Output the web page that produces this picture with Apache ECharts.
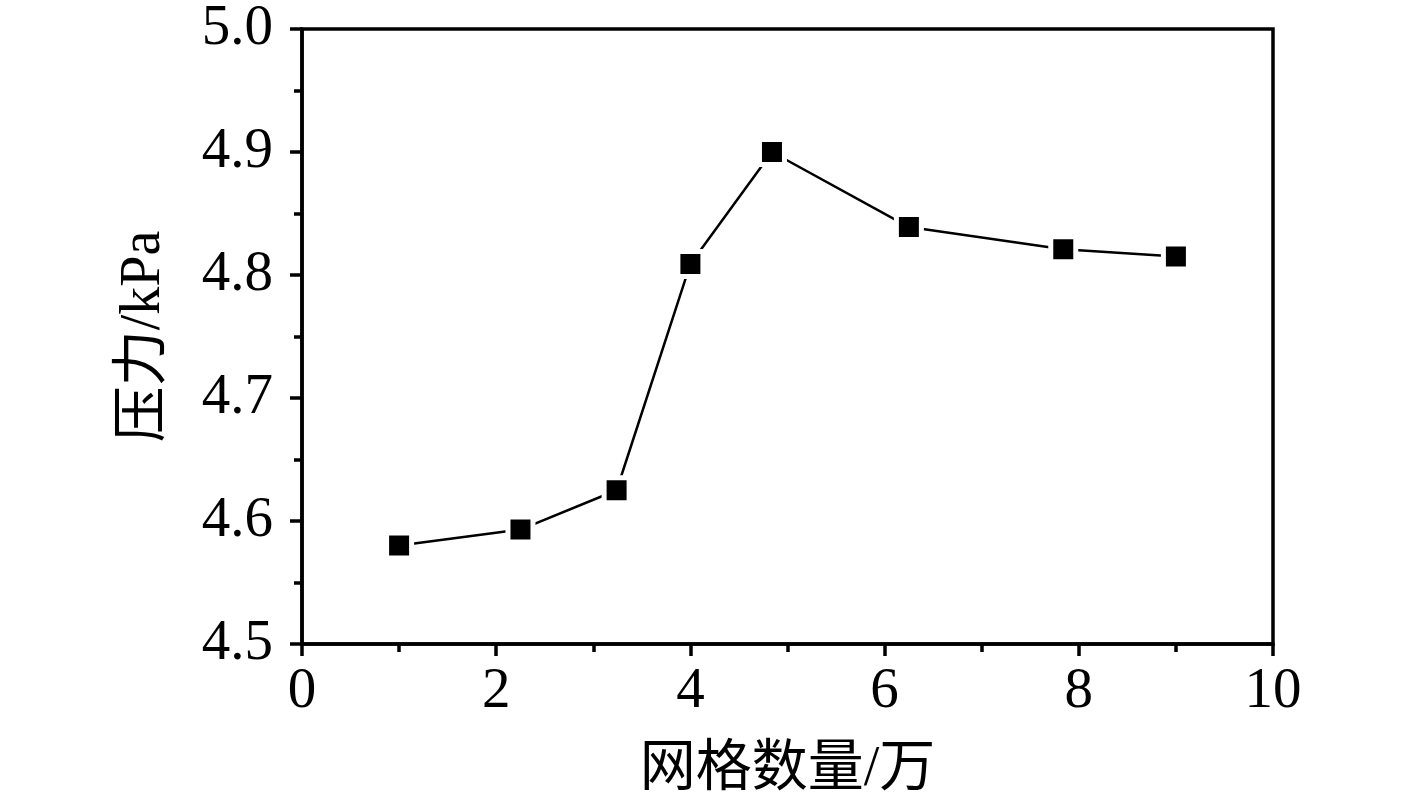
<!DOCTYPE html>
<html>
<head>
<meta charset="utf-8">
<script src="https://cdn.jsdelivr.net/npm/echarts@6/dist/echarts.min.js"></script>
<style>
html,body{margin:0;padding:0;background:#fff;}
#main{width:1417px;height:808px;}
</style>
</head>
<body>
<div id="main"></div>
<script>
// grid count (10k) and pressure (kPa)
var gridCounts = [1.0, 2.25, 3.24, 4.0, 4.84, 6.25, 7.84, 9.0];
var pressures = [4.580, 4.593, 4.625, 4.809, 4.900, 4.839, 4.821, 4.815];
var xName = '网格数量/万';
var yName = '压力/kPa';

var chart = echarts.init(document.getElementById('main'), null, {renderer: 'canvas'});
var serif = '"Liberation Serif", "Times New Roman", serif';
var cjk = '"Liberation Serif", "Noto Sans CJK SC", serif';
var data = gridCounts.map(function (x, i) { return [x, pressures[i]]; });

chart.setOption({
  backgroundColor: '#fff',
  animation: false,
  grid: {
    left: 302, top: 29, right: 144, bottom: 164,
    show: true, borderColor: '#000', borderWidth: 3.5, backgroundColor: 'transparent'
  },
  xAxis: {
    type: 'value', min: 0, max: 10, interval: 2,
    name: xName, nameLocation: 'middle', nameGap: 98,
    nameTextStyle: {fontFamily: cjk, fontSize: 56, color: '#000'},
    axisLine: {show: true, onZero: false, lineStyle: {color: '#000', width: 3.5}},
    axisTick: {show: true, inside: false, length: 12, lineStyle: {color: '#000', width: 3.5}},
    minorTick: {show: true, splitNumber: 2, length: 8, lineStyle: {color: '#000', width: 3.5}},
    axisLabel: {fontFamily: serif, fontSize: 57, color: '#000', margin: 20},
    splitLine: {show: false}
  },
  yAxis: {
    type: 'value', min: 4.5, max: 5.0, interval: 0.1,
    name: yName, nameLocation: 'middle', nameGap: 130, nameRotate: 90,
    nameTextStyle: {fontFamily: cjk, fontSize: 56, color: '#000'},
    axisLine: {show: true, onZero: false, lineStyle: {color: '#000', width: 3.5}},
    axisTick: {show: true, inside: false, length: 12, lineStyle: {color: '#000', width: 3.5}},
    minorTick: {show: true, splitNumber: 2, length: 8, lineStyle: {color: '#000', width: 3.5}},
    axisLabel: {fontFamily: serif, fontSize: 57, color: '#000', margin: 29,
      formatter: function (v) { return v.toFixed(1); }},
    splitLine: {show: false}
  },
  series: [{
    type: 'line',
    data: data,
    symbol: 'rect',
    symbolSize: 25,
    lineStyle: {color: '#000', width: 2.5},
    itemStyle: {color: '#000', borderColor: '#fff', borderWidth: 5},
    z: 3
  }]
});
</script>
</body>
</html>
